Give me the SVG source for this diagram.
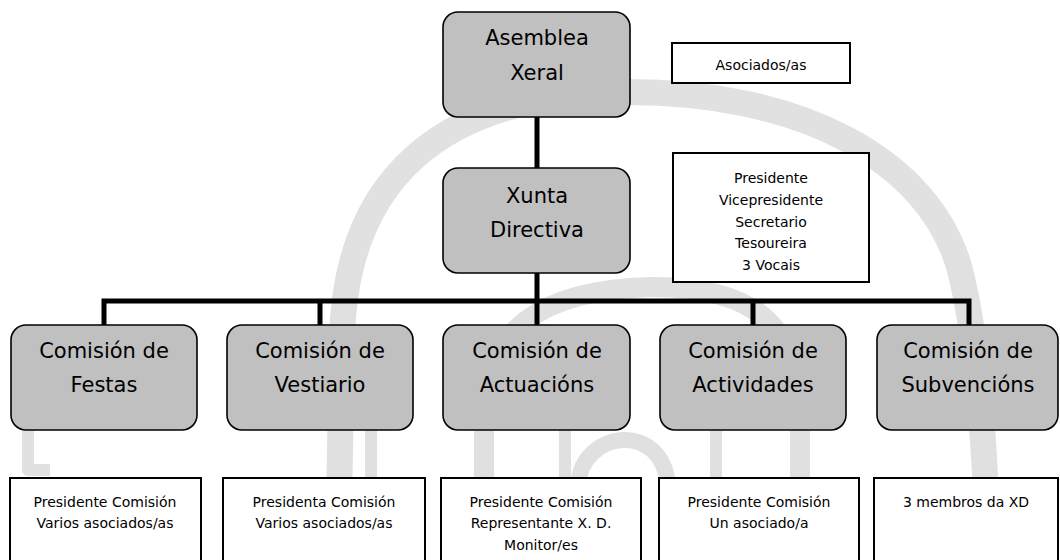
<svg xmlns="http://www.w3.org/2000/svg" width="1060" height="560" viewBox="0 0 1060 560">
<style>
.wm{fill:none;stroke:#d4d4d4;stroke-linejoin:round}
.main{fill:#c0c0c0;stroke:#000;stroke-width:1.6}
.box{fill:#fff;stroke:#000;stroke-width:2}
.big{font-family:"Comic Sans MS","DejaVu Sans",sans-serif;font-size:21px;text-anchor:middle;fill:#000}
.small{font-family:"Comic Sans MS","DejaVu Sans",sans-serif;font-size:14px;text-anchor:middle;fill:#000}
.conn{fill:none;stroke:#000;stroke-width:5;stroke-linejoin:miter}
</style>
<rect width="1060" height="560" fill="#fff"/>
<g id="watermark" opacity="0.7">
<path class="wm" stroke-width="26" d="M338 560 L342 340 C345 180 440 95 620 92 C800 90 930 160 960 270 C975 330 985 420 988 560"/>
<path class="wm" stroke-width="20" d="M484 560 L484 420 C484 330 540 290 650 287 C760 286 800 330 800 420 L800 560"/>
<path class="wm" stroke-width="16" d="M578 485 C582 430 662 420 668 485"/>
<path class="wm" stroke-width="12" d="M371 430 V480 M565 430 V480 M716 430 V480 M28 430 V470 H50"/>
</g>
<g id="connectors">
<path class="conn" d="M537 117 V168 M537 273 V325"/>
<path class="conn" d="M104 325 V301 H969 V325"/>
<path class="conn" d="M320 301 V325 M753 301 V325"/>
</g>
<g id="asamblea">
<rect class="main" x="443" y="12" width="187" height="105" rx="15"/>
<text class="big" x="537" y="45">Asemblea</text>
<text class="big" x="537" y="80">Xeral</text>
</g>
<g id="asociados">
<rect class="box" x="672" y="43" width="178" height="40"/>
<text class="small" x="761" y="70">Asociados/as</text>
</g>
<g id="xunta">
<rect class="main" x="443" y="168" width="187" height="105" rx="15"/>
<text class="big" x="537" y="203">Xunta</text>
<text class="big" x="537" y="237">Directiva</text>
</g>
<g id="membros-xunta">
<rect class="box" x="673" y="153" width="196" height="129"/>
<text class="small" x="771" y="183">Presidente</text>
<text class="small" x="771" y="205">Vicepresidente</text>
<text class="small" x="771" y="227">Secretario</text>
<text class="small" x="771" y="248">Tesoureira</text>
<text class="small" x="771" y="270">3 Vocais</text>
</g>
<g id="festas">
<rect class="main" x="11" y="325" width="186" height="105" rx="15"/>
<text class="big" x="104" y="358">Comisión de</text>
<text class="big" x="104" y="392">Festas</text>
</g>
<g id="vestiario">
<rect class="main" x="227" y="325" width="186" height="105" rx="15"/>
<text class="big" x="320" y="358">Comisión de</text>
<text class="big" x="320" y="392">Vestiario</text>
</g>
<g id="actuacions">
<rect class="main" x="443" y="325" width="187" height="105" rx="15"/>
<text class="big" x="537" y="358">Comisión de</text>
<text class="big" x="537" y="392">Actuacións</text>
</g>
<g id="actividades">
<rect class="main" x="660" y="325" width="186" height="105" rx="15"/>
<text class="big" x="753" y="358">Comisión de</text>
<text class="big" x="753" y="392">Actividades</text>
</g>
<g id="subvencions">
<rect class="main" x="877" y="325" width="181" height="105" rx="15"/>
<text class="big" x="968" y="358">Comisión de</text>
<text class="big" x="968" y="392">Subvencións</text>
</g>
<g id="membros-festas">
<rect class="box" x="10" y="478" width="191" height="100"/>
<text class="small" x="105" y="507">Presidente Comisión</text>
<text class="small" x="105" y="528">Varios asociados/as</text>
</g>
<g id="membros-vestiario">
<rect class="box" x="223" y="478" width="202" height="100"/>
<text class="small" x="324" y="507">Presidenta Comisión</text>
<text class="small" x="324" y="528">Varios asociados/as</text>
</g>
<g id="membros-actuacions">
<rect class="box" x="441" y="478" width="200" height="100"/>
<text class="small" x="541" y="507">Presidente Comisión</text>
<text class="small" x="541" y="528">Representante X. D.</text>
<text class="small" x="541" y="550">Monitor/es</text>
</g>
<g id="membros-actividades">
<rect class="box" x="659" y="478" width="200" height="100"/>
<text class="small" x="759" y="507">Presidente Comisión</text>
<text class="small" x="759" y="528">Un asociado/a</text>
</g>
<g id="membros-subvencions">
<rect class="box" x="874" y="478" width="184" height="100"/>
<text class="small" x="966" y="507">3 membros da XD</text>
</g>
</svg>
